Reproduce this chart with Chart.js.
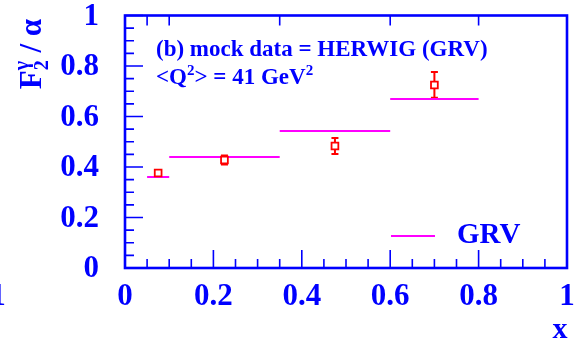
<!DOCTYPE html>
<html>
<head>
<meta charset="utf-8">
<script src="https://cdn.jsdelivr.net/npm/chart.js@4/dist/chart.umd.min.js"></script>
<style>
html, body { margin: 0; padding: 0; background: #fff; overflow: hidden; }
canvas { display: block; }
</style>
</head>
<body>
<canvas id="c" width="577" height="344"></canvas>
<script>
// Mock data points (HERWIG with GRV), bin centres and statistical errors
const xPoints = [0.075, 0.225, 0.475, 0.70];
const yPoints = [0.376, 0.428, 0.483, 0.725];
const yErrors = [0.010, 0.018, 0.032, 0.051];

// GRV prediction per x bin
const binLow = [0.05, 0.10, 0.35, 0.60];
const binHigh = [0.10, 0.35, 0.60, 0.80];
const grvValues = [0.360, 0.440, 0.543, 0.669];

// Axis tick labels
const xTickValues = [0, 0.2, 0.4, 0.6, 0.8, 1];
const xTickLabels = ['0', '0.2', '0.4', '0.6', '0.8', '1'];
const yTickValues = [0, 0.2, 0.4, 0.6, 0.8, 1];
const yTickLabels = ['0', '0.2', '0.4', '0.6', '0.8', '1'];

const BLUE = '#0000ff';
const RED = '#ff0000';
const MAGENTA = '#ff00ff';
const SERIF = '"Liberation Serif", "DejaVu Serif", serif';

// Step segments for GRV: one horizontal piece per bin, broken by gaps
const grvData = [];
binLow.forEach((lo, i) => {
  grvData.push({ x: lo, y: grvValues[i] });
  grvData.push({ x: binHigh[i], y: grvValues[i] });
  grvData.push({ x: binHigh[i], y: null });
});
const pointData = xPoints.map((x, i) => ({ x, y: yPoints[i] }));

function bold(size) { return 'bold ' + size + 'px ' + SERIF; }

// Draws a sequence of text runs: [text, size, baselineShift, sameXAsPrevious]
function drawRuns(ctx, runs, x, y) {
  let cx = x, prevStart = x, maxEnd = x;
  runs.forEach(r => {
    const [t, size, dy, stack] = r;
    ctx.font = bold(size);
    const start = stack ? prevStart : cx;
    ctx.fillText(t, start, y + dy);
    const end = start + ctx.measureText(t).width;
    maxEnd = Math.max(maxEnd, end);
    prevStart = start;
    cx = maxEnd;
  });
  return maxEnd - x;
}
function runsWidth(ctx, runs) {
  let cx = 0, prevStart = 0, maxEnd = 0;
  runs.forEach(r => {
    const [t, size, dy, stack] = r;
    ctx.font = bold(size);
    const start = stack ? prevStart : cx;
    const end = start + ctx.measureText(t).width;
    maxEnd = Math.max(maxEnd, end);
    prevStart = start;
    cx = maxEnd;
  });
  return maxEnd;
}

const framePlugin = {
  id: 'frame',
  beforeDatasetsDraw(chart) {
    // error bars with end caps, drawn under the open markers
    const { ctx, scales: { x, y } } = chart;
    ctx.save();
    ctx.strokeStyle = RED;
    ctx.lineWidth = 2;
    xPoints.forEach((xv, i) => {
      const px = x.getPixelForValue(xv);
      const top = y.getPixelForValue(yPoints[i] + yErrors[i]);
      const bot = y.getPixelForValue(yPoints[i] - yErrors[i]);
      ctx.beginPath();
      ctx.moveTo(px, top); ctx.lineTo(px, bot);
      ctx.moveTo(px - 3.5, top); ctx.lineTo(px + 3.5, top);
      ctx.moveTo(px - 3.5, bot); ctx.lineTo(px + 3.5, bot);
      ctx.stroke();
    });
    ctx.restore();
  },
  afterDraw(chart) {
    const { ctx, chartArea: a, scales: { x, y } } = chart;
    ctx.save();
    ctx.strokeStyle = BLUE;
    ctx.fillStyle = BLUE;

    // ticks
    ctx.lineWidth = 1.6;
    ctx.beginPath();
    for (let k = 0; k <= 20; k++) {
      const v = k * 0.05;
      const major = k % 4 === 0;
      const len = major ? 18 : 9;
      const px = x.getPixelForValue(v);
      ctx.moveTo(px, a.bottom); ctx.lineTo(px, a.bottom - len);
      const py = y.getPixelForValue(v);
      ctx.moveTo(a.left, py); ctx.lineTo(a.left + len, py);
    }
    // top axis marks at the x bin edges
    [binLow[0], ...binHigh].forEach(v => {
      const px = x.getPixelForValue(v);
      ctx.moveTo(px, a.top); ctx.lineTo(px, a.top + 10);
    });
    ctx.stroke();

    // frame
    ctx.lineWidth = 2.6;
    ctx.strokeRect(a.left, a.top, a.right - a.left, a.bottom - a.top);

    // tick labels
    ctx.font = bold(31);
    ctx.textBaseline = 'middle';
    ctx.textAlign = 'center';
    xTickValues.forEach((v, i) => {
      ctx.fillText(xTickLabels[i], x.getPixelForValue(v), 297);
    });
    ctx.textAlign = 'right';
    yTickValues.forEach((v, i) => {
      ctx.fillText(yTickLabels[i], 99, y.getPixelForValue(v) + 1);
    });
    // label of the neighbouring panel's last tick, cut at the edge
    ctx.textAlign = 'center';
    ctx.fillText('1', -2, 297);

    // x axis title
    ctx.textBaseline = 'alphabetic';
    ctx.textAlign = 'center';
    ctx.font = bold(30);
    ctx.fillText('x', 560, 338);

    // y axis title, rotated
    ctx.textAlign = 'left';
    const title = [['F', 31, 0, false], ['\u03b3', 20, -13, false], ['2', 20, 7, true], [' / \u03b1', 31, 0, false]];
    const tw = runsWidth(ctx, title);
    ctx.translate(41, 54);
    ctx.rotate(-Math.PI / 2);
    drawRuns(ctx, title, -tw / 2, 0);
    ctx.setTransform(1, 0, 0, 1, 0, 0);

    // annotation
    drawRuns(ctx, [['(b) mock data = HERWIG (GRV)', 23, 0, false]], 156, 56);
    drawRuns(ctx, [['<Q', 23, 0, false], ['2', 15, -9, false], ['> = 41 GeV', 23, 0, false], ['2', 15, -9, false]], 156, 84);

    // legend
    ctx.strokeStyle = MAGENTA;
    ctx.lineWidth = 2;
    ctx.beginPath();
    ctx.moveTo(391, 236); ctx.lineTo(435, 236);
    ctx.stroke();
    ctx.fillStyle = BLUE;
    drawRuns(ctx, [['GRV', 29, 0, false]], 457, 243);
    ctx.restore();
  }
};

new Chart(document.getElementById('c'), {
  type: 'scatter',
  data: {
    datasets: [
      {
        label: 'GRV',
        data: grvData,
        showLine: true,
        spanGaps: false,
        borderColor: MAGENTA,
        borderWidth: 2,
        pointRadius: 0,
        pointHoverRadius: 0,
        order: 2
      },
      {
        label: 'mock data',
        data: pointData,
        pointStyle: 'rect',
        pointRadius: 4.8,
        pointBorderWidth: 1.8,
        borderColor: RED,
        backgroundColor: '#ffffff',
        order: 1
      }
    ]
  },
  plugins: [framePlugin],
  options: {
    responsive: false,
    animation: false,
    devicePixelRatio: 1,
    layout: { padding: { left: 125, right: 10, top: 15.5, bottom: 76 } },
    plugins: { legend: { display: false }, tooltip: { enabled: false } },
    scales: {
      x: { type: 'linear', min: 0, max: 1, display: false },
      y: { type: 'linear', min: 0, max: 1, display: false }
    }
  }
});
</script>
</body>
</html>
